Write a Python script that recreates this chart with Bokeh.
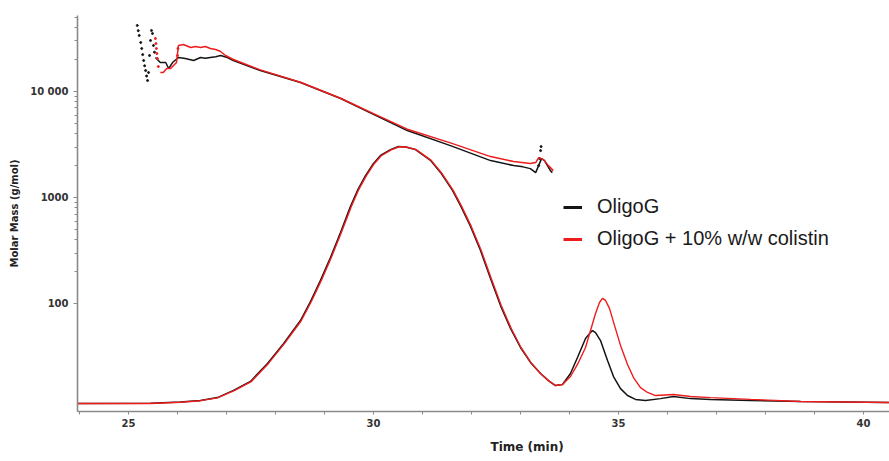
from bokeh.plotting import figure
from bokeh.models import (Range1d, FixedTicker, Legend, LegendItem, BasicTickFormatter,
                          LinearScale, Title)
from bokeh.embed import file_html
from bokeh.resources import INLINE

# ---------------- data ----------------
# Molar mass traces (g/mol) vs time (min)
black_mm_t = [25.55, 25.65, 25.76, 25.82, 25.90, 26.02, 26.16, 26.33, 26.47, 26.57, 26.67, 26.78, 26.88,
              27.02, 27.14, 27.69, 28.51, 29.33, 30.00, 30.69, 31.57, 32.39, 32.86, 33.05, 33.20, 33.31,
              33.43, 33.49, 33.55, 33.61, 33.65]
black_mm_m = [20940, 18770, 18770, 16480, 18770, 20940, 20480, 19610, 20940, 20600, 20940, 21300, 21860,
              20940, 19610, 15780, 12160, 8590, 6100, 4287, 3094, 2234, 2004, 1950, 1877, 1721,
              2333, 2234, 2004, 1797, 1721]
black_mm_dots_t = [25.18, 25.20, 25.22, 25.25, 25.27, 25.29, 25.31, 25.33, 25.35, 25.37, 25.39,
                   25.41, 25.43, 25.45, 25.47, 25.49, 25.51, 25.53,
                   33.37, 33.39, 33.41, 33.42]
black_mm_dots_m = [41950, 37500, 33760, 29000, 25450, 22300, 19610, 17500, 15780, 14000, 12700,
                   15110, 21860, 30280, 37630, 35250, 27160, 23500,
                   2004, 2333, 2776, 3028]

red_mm_t = [25.65, 25.71, 25.78, 25.86, 25.92, 25.98, 26.02, 26.12, 26.27, 26.37, 26.47, 26.57, 26.67,
            26.78, 26.88, 26.98, 27.14, 27.69, 28.51, 29.33, 30.00, 30.69, 31.57, 32.39, 32.86, 33.20,
            33.31, 33.37, 33.47, 33.57, 33.67]
red_mm_m = [15110, 15110, 16480, 16480, 17590, 18770, 27160, 27760, 26010, 26580, 26010, 26580, 25450,
            24900, 23850, 21860, 20040, 16000, 12250, 8650, 6200, 4420, 3280, 2437, 2186, 2094,
            2139, 2385, 2283, 2004, 1797]
red_mm_dots_t = [25.55, 25.56, 25.57, 25.58, 25.59, 25.61, 26.00, 26.01]
red_mm_dots_m = [31620, 28300, 25450, 22800, 20480, 17210, 21860, 25450]

# Normalised detector (concentration) traces vs time (min)
conc_t_black = [23.96, 25.449, 26.061, 26.469, 26.816, 27.143, 27.490, 27.837, 28.163, 28.510,
                28.714, 28.918, 29.122, 29.327, 29.531, 29.673, 29.837, 30.000, 30.143, 30.347,
                30.510, 30.653, 30.857, 31.163, 31.367, 31.612, 31.776, 31.980, 32.184, 32.388,
                32.592, 32.796, 33.000, 33.204, 33.408, 33.571, 33.714,
                33.857, 34.020, 34.163, 34.327, 34.408, 34.469, 34.531, 34.633, 34.776, 34.898,
                35.041, 35.184, 35.347, 35.551, 35.857, 36.122, 36.469, 36.878, 37.694, 38.714, 40.531]
conc_s_black = [0.0, 0.001, 0.006, 0.012, 0.023, 0.051, 0.086, 0.156, 0.233, 0.323,
                0.397, 0.479, 0.568, 0.665, 0.767, 0.829, 0.887, 0.934, 0.965, 0.988,
                1.0, 0.998, 0.988, 0.946, 0.899, 0.829, 0.770, 0.689, 0.595, 0.486,
                0.381, 0.292, 0.218, 0.160, 0.117, 0.089, 0.070,
                0.074, 0.117, 0.179, 0.253, 0.272, 0.284, 0.276, 0.245, 0.167, 0.105,
                0.058, 0.031, 0.016, 0.012, 0.019, 0.027, 0.019, 0.016, 0.012, 0.008, 0.004]
conc_t_red = [23.96, 25.449, 26.061, 26.469, 26.816, 27.158, 27.505, 27.852, 28.178, 28.525,
              28.729, 28.933, 29.137, 29.342, 29.546, 29.688, 29.852, 30.015, 30.158, 30.362,
              30.525, 30.668, 30.872, 31.178, 31.382, 31.627, 31.791, 31.995, 32.199, 32.403,
              32.607, 32.811, 33.010, 33.210, 33.410, 33.571, 33.714,
              33.857, 34.020, 34.163, 34.327, 34.429, 34.531, 34.612, 34.673, 34.735, 34.816,
              34.918, 35.041, 35.184, 35.306, 35.449, 35.592, 35.755, 36.122, 36.469, 36.878,
              37.694, 38.714, 40.531]
conc_s_red = [0.0, 0.0, 0.005, 0.011, 0.022, 0.050, 0.085, 0.155, 0.232, 0.322,
              0.396, 0.478, 0.567, 0.664, 0.766, 0.828, 0.886, 0.933, 0.964, 0.987,
              0.999, 0.998, 0.988, 0.946, 0.899, 0.829, 0.770, 0.689, 0.595, 0.486,
              0.381, 0.292, 0.218, 0.160, 0.117, 0.089, 0.070,
              0.074, 0.105, 0.152, 0.218, 0.284, 0.350, 0.393, 0.409, 0.401, 0.370,
              0.304, 0.226, 0.152, 0.101, 0.062, 0.043, 0.031, 0.035, 0.027, 0.023,
              0.016, 0.008, 0.004]

x_major = [25, 30, 35, 40]
x_minor = [24, 26, 27, 28, 29, 31, 32, 33, 34, 36, 37, 38, 39]
y_major = [100, 1000, 10000]
y_minor = [200, 300, 400, 500, 600, 700, 800, 900,
           2000, 3000, 4000, 5000, 6000, 7000, 8000, 9000,
           20000, 30000, 40000, 50000]
y_labels = {100: "100", 1000: "1000", 10000: "10 000"}

series_names = ["OligoG", "OligoG + 10% w/w colistin"]
legend_swatch_t = [float("nan")]
legend_swatch_m = [float("nan")]
BLACK = "#141414"
RED = "#ee1c1c"

# ---------------- figure ----------------
p = figure(width=889, height=461, y_axis_type="log",
           x_range=Range1d(23.96, 40.53), y_range=Range1d(9.64, 52100),
           output_backend="svg", toolbar_location=None,
           min_border_left=77, min_border_right=0, min_border_top=15, min_border_bottom=50)
p.extra_y_ranges = {"sig": Range1d(-0.0311, 1.5097)}
p.extra_y_scales = {"sig": LinearScale()}
p.xgrid.visible = False
p.ygrid.visible = False
p.outline_line_color = None
p.background_fill_color = "white"

for ax in (p.xaxis[0], p.yaxis[0]):
    ax.axis_line_color = "#8a8a8a"
    ax.axis_line_width = 1.6
    ax.major_tick_line_color = "#8a8a8a"
    ax.minor_tick_line_color = "#8a8a8a"
    ax.major_tick_in = 0
    ax.minor_tick_in = 0
    ax.major_label_text_font = "DejaVu Sans"
    ax.major_label_text_font_style = "bold"
    ax.major_label_text_font_size = "10px"
    ax.major_label_text_color = "#333333"

xa = p.xaxis[0]
xa.ticker = FixedTicker(ticks=x_major, minor_ticks=x_minor)
xa.major_tick_out = 3
xa.minor_tick_out = 3
xa.major_label_standoff = 4

ya = p.yaxis[0]
ya.ticker = FixedTicker(ticks=y_major, minor_ticks=y_minor)
ya.formatter = BasicTickFormatter()
ya.major_label_overrides = y_labels
ya.major_tick_out = 4
ya.minor_tick_out = 3
ya.major_label_standoff = 5
ya.axis_label = "Molar Mass (g/mol)"
ya.axis_label_text_font = "DejaVu Sans"
ya.axis_label_text_font_style = "bold"
ya.axis_label_text_font_size = "10px"
ya.axis_label_text_color = "#222222"
ya.axis_label_standoff = 7

# concentration traces (hidden linear axis)
p.line(conc_t_black, conc_s_black, y_range_name="sig", line_color=BLACK, line_width=1.5)
p.line(conc_t_red, conc_s_red, y_range_name="sig", line_color=RED, line_width=1.4)

# molar mass traces
p.line(black_mm_t, black_mm_m, line_color=BLACK, line_width=1.5)
p.scatter(black_mm_dots_t, black_mm_dots_m, size=2.0, color=BLACK)
p.line(red_mm_t, red_mm_m, line_color=RED, line_width=1.5)
p.scatter(red_mm_dots_t, red_mm_dots_m, size=2.0, color=RED)

# legend swatch renderers (nothing drawn in the plot, only legend swatches)
lb = p.line(legend_swatch_t, legend_swatch_m, line_color=BLACK, line_width=3)
lr = p.line(legend_swatch_t, legend_swatch_m, line_color=RED, line_width=3)
legend = Legend(items=[LegendItem(label=series_names[0], renderers=[lb]),
                       LegendItem(label=series_names[1], renderers=[lr])],
                location=(486, 161), padding=0, margin=0,
                background_fill_alpha=0, border_line_alpha=0,
                label_text_font="Liberation Sans", label_text_font_size="20px",
                label_text_color="#1a1a1a", glyph_width=19, glyph_height=20,
                label_standoff=15, spacing=9)
p.add_layout(legend)

xlabel = Title(text="Time (min)", align="left", offset=413,
               text_font="DejaVu Sans", text_font_style="bold", text_font_size="12px",
               text_color="#222222", standoff=16)
p.add_layout(xlabel, "below")

open("out.html", "w").write(file_html(p, INLINE))
